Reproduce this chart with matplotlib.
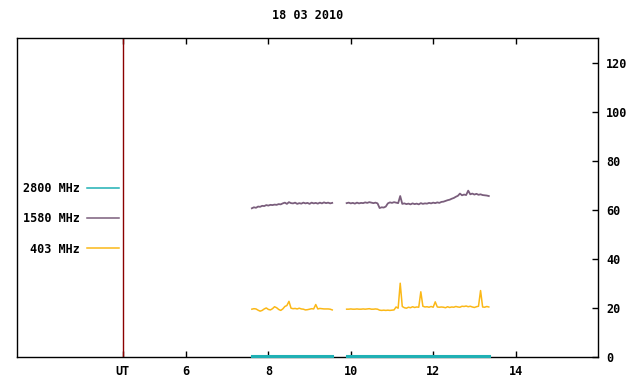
import numpy as np
import matplotlib
matplotlib.use("Agg")
import matplotlib.pyplot as plt

# ── Data ───────────────────────────────────────────────────────────────
title = "18 03 2010"

# sample times (UT hours), two observing runs
t_run1 = [7.60, 7.65, 7.70, 7.75, 7.80, 7.85, 7.90, 7.95, 8.00, 8.05,
          8.10, 8.15, 8.20, 8.25, 8.30, 8.35, 8.40, 8.45, 8.50, 8.55,
          8.60, 8.65, 8.70, 8.75, 8.80, 8.85, 8.90, 8.95, 9.00, 9.05,
          9.10, 9.15, 9.20, 9.25, 9.30, 9.35, 9.40, 9.45, 9.50, 9.55]
t_run2 = [9.90, 9.95, 10.00, 10.05, 10.10, 10.15, 10.20, 10.25, 10.30, 10.35,
          10.40, 10.45, 10.50, 10.55, 10.60, 10.65, 10.70, 10.75, 10.80, 10.85,
          10.90, 10.95, 11.00, 11.05, 11.10, 11.15, 11.20, 11.25, 11.30, 11.35,
          11.40, 11.45, 11.50, 11.55, 11.60, 11.65, 11.70, 11.75, 11.80, 11.85,
          11.90, 11.95, 12.00, 12.05, 12.10, 12.15, 12.20, 12.25, 12.30, 12.35,
          12.40, 12.45, 12.50, 12.55, 12.60, 12.65, 12.70, 12.75, 12.80, 12.85,
          12.90, 12.95, 13.00, 13.05, 13.10, 13.15, 13.20, 13.25, 13.30, 13.35]

f1580_run1 = [60.6, 61.0, 60.8, 61.3, 61.2, 61.6, 61.5, 61.9, 61.7, 62.0,
              61.9, 62.1, 62.0, 62.3, 62.2, 62.6, 62.9, 62.4, 63.1, 62.7,
              62.6, 62.9, 62.4, 62.7, 62.5, 62.9, 62.6, 62.8, 62.4, 62.9,
              62.6, 62.8, 62.5, 62.9, 62.6, 63.0, 62.7, 62.9, 62.6, 62.8]
f1580_run2 = [62.7, 62.9, 62.6, 62.8, 62.5, 62.9, 62.6, 62.8, 62.7, 63.0,
              62.8, 63.1, 62.9, 62.7, 62.9, 62.6, 60.7, 61.0, 60.9, 61.3,
              62.6, 63.0, 62.8, 63.1, 62.9, 62.7, 65.6, 62.4, 62.6, 62.3,
              62.5, 62.2, 62.6, 62.3, 62.5, 62.2, 62.7, 62.4, 62.6, 62.5,
              62.8, 62.6, 62.9, 62.7, 63.0, 62.8, 63.2, 63.3, 63.6, 63.9,
              64.1, 64.5, 64.8, 65.3, 65.7, 66.6, 65.9, 66.2, 66.0, 67.8,
              66.3, 66.6, 66.2, 66.5, 66.1, 66.3, 66.0, 65.9, 65.8, 65.6]

f403_run1 = [19.4, 19.6, 19.5, 19.0, 18.6, 18.9, 19.5, 19.9, 19.3, 19.1,
             19.6, 20.4, 20.0, 19.3, 18.9, 19.5, 20.5, 20.9, 22.6, 19.8,
             19.6, 19.7, 19.5, 19.8, 19.5, 19.4, 19.1, 19.2, 19.4, 19.6,
             19.5, 21.3, 19.5, 19.7, 19.6, 19.5, 19.5, 19.5, 19.4, 19.1]
f403_run2 = [19.4, 19.4, 19.5, 19.4, 19.4, 19.5, 19.4, 19.4, 19.5, 19.4,
             19.5, 19.6, 19.4, 19.4, 19.5, 19.4, 19.0, 18.9, 19.0, 18.9,
             19.0, 18.9, 19.0, 19.1, 20.3, 19.8, 30.0, 20.5, 20.0, 19.8,
             20.2, 20.0, 20.4, 20.1, 20.3, 20.2, 26.5, 20.6, 20.3, 20.4,
             20.2, 20.5, 20.2, 22.4, 20.3, 20.2, 20.3, 20.2, 20.0, 20.4,
             20.1, 20.3, 20.2, 20.5, 20.3, 20.2, 20.6, 20.5, 20.7, 20.4,
             20.6, 20.3, 20.1, 20.4, 20.6, 27.0, 20.3, 20.2, 20.5, 20.3]

# 2800 MHz channel sits at zero during both runs
t2800 = [7.60, 9.55, np.nan, 9.90, 13.35]
f2800 = [0.3, 0.3, np.nan, 0.3, 0.3]

ut_mark = 4.47
xticks = [ut_mark, 6, 8, 10, 12, 14]
xticklabels = ["UT", "6", "8", "10", "12", "14"]
yticks = [0, 20, 40, 60, 80, 100, 120]

# ── Plot ───────────────────────────────────────────────────────────────
plt.rcParams["font.family"] = "DejaVu Sans Mono"
plt.rcParams["font.weight"] = "bold"
plt.rcParams["font.size"] = 8.5

fig = plt.figure(figsize=(6.4, 3.84), dpi=100)
ax = fig.add_axes([17 / 640, 1 - 356.7 / 384, (598 - 17) / 640, (356.7 - 38.3) / 384])

t_all = t_run1 + [np.nan] + t_run2
ax.plot(t2800, f2800, color="#1fb0b4", lw=2.2, label="2800 MHz", clip_on=False, zorder=4)
ax.plot(t_all, f1580_run1 + [np.nan] + f1580_run2, color="#7a5e7c", lw=1.3, label="1580 MHz")
ax.plot(t_all, f403_run1 + [np.nan] + f403_run2, color="#fbb817", lw=1.1, label="403 MHz")

ax.axvline(ut_mark, color="#8b0000", lw=1.0)

ax.set_xlim(1.9, 16.0)
ax.set_ylim(0, 130)

ax.set_xticks(xticks)
ax.set_xticklabels(xticklabels)
ax.tick_params(axis="x", direction="in", top=True, bottom=True, length=4, width=1, pad=6)
ax.yaxis.tick_right()
ax.set_yticks(yticks)
ax.tick_params(axis="y", direction="in", right=True, left=False, length=4, width=1, pad=6)
for s in ax.spines.values():
    s.set_linewidth(1.0)

ax.set_title(title, pad=14, fontsize=8.5, fontweight="bold")

leg = ax.legend(loc="center right", bbox_to_anchor=(125 / 640, 1 - 219 / 384),
                bbox_transform=fig.transFigure, frameon=False, markerfirst=False,
                handlelength=2.7, handletextpad=0.65, labelspacing=1.45, borderpad=0,
                fontsize=8.5)
for ln in leg.get_lines():
    ln.set_linewidth(1.1)

fig.savefig("out.png", dpi=100)
